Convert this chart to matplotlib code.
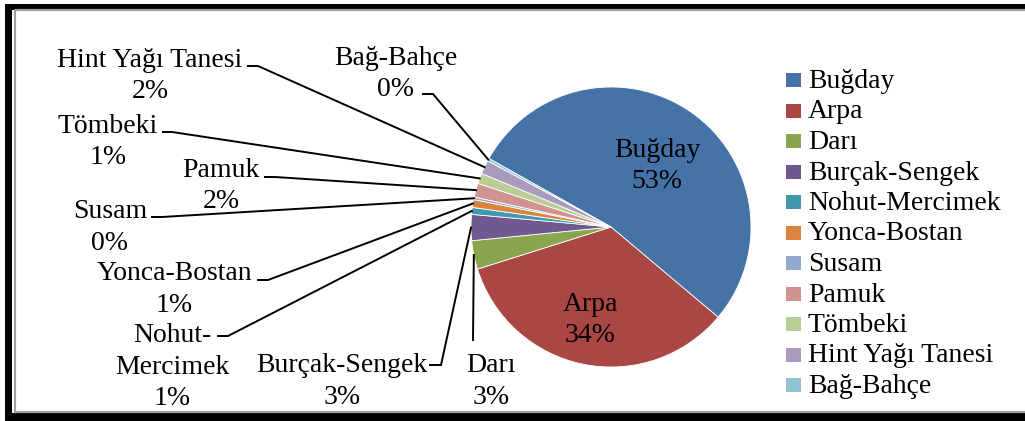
import numpy as np
import matplotlib.pyplot as plt
from matplotlib.patches import Rectangle

plt.rcParams["font.family"] = ["Liberation Serif", "DejaVu Serif"]

categories = ["Buğday", "Arpa", "Darı", "Burçak-Sengek", "Nohut-Mercimek",
              "Yonca-Bostan", "Susam", "Pamuk", "Tömbeki", "Hint Yağı Tanesi",
              "Bağ-Bahçe"]
shares = [53.0, 34.0, 3.3, 3.0, 0.8, 0.9, 0.3, 1.6, 1.2, 1.6, 0.3]
colors = ["#4572A7", "#AA4643", "#89A54E", "#71588F", "#4198AF", "#DB843D",
          "#93A9CF", "#D19392", "#B9CD96", "#A99BBD", "#92C3D4"]

W, H = 1025, 421
CX, CY, R = 611, 227, 140
FS = 20
LINE = 31.5

fig = plt.figure(figsize=(W / 100, H / 100), dpi=100)

# pie axes: square in pixels, data units = radius
ax = fig.add_axes([(CX - R) / W, (H - CY - R) / H, 2 * R / W, 2 * R / H])
wedges, _ = ax.pie(shares, colors=colors, startangle=150.7, counterclock=False,
                   radius=1, wedgeprops=dict(edgecolor="white", linewidth=0.6))
ax.set_xlim(-1, 1)
ax.set_ylim(-1, 1)
ax.set_aspect("auto")
ax.axis("off")

# overlay axes in pixel coordinates for frame, labels, leaders, legend
bg = fig.add_axes([0, 0, 1, 1], zorder=5)
bg.set_xlim(0, W)
bg.set_ylim(H, 0)
bg.axis("off")
bg.patch.set_alpha(0)

# frame
for x, y, w, h in [(5, 4, 7, 417), (5, 4, 1020, 6), (5, 413, 1020, 8)]:
    bg.add_patch(Rectangle((x, y), w, h, color="black", lw=0))
bg.plot([15, 15, W], [412, 10, 10], color="#a0a0a0", lw=1.6)
bg.plot([15, W], [412, 412], color="#a0a0a0", lw=1.6)


def lines_at(x, y, lines, ha="center"):
    for k, s in enumerate(lines):
        bg.text(x, y + k * LINE, s, ha=ha, va="baseline", fontsize=FS)


def pct(v):
    return f"{round(v)}%"


def edge_point(w):
    mid = np.deg2rad((w.theta1 + w.theta2) / 2)
    return CX + R * np.cos(mid), CY - R * np.sin(mid)


# inside labels
lines_at(657, 157, [categories[0], pct(shares[0])])
lines_at(590, 311, [categories[1], pct(shares[1])])

# outside labels: (text x, first baseline, leader start, elbow)
outside = {
    2: (491, 372, (473, 340), (473, 340)),
    3: (342, 372, (430, 365), (441, 365)),
    4: (172, 342, (218, 336), (228, 336)),
    5: (174, 280, (258, 280), (268, 280)),
    6: (110, 218, (152, 217), (162, 217)),
    7: (221, 177, (265, 177), (275, 177)),
    8: (108, 133, (163, 132), (172, 132)),
    9: (150, 67, (248, 66), (258, 66)),
    10: (396, 65, (423, 94), (433, 94)),
}
for i, (tx, ty, p0, p1) in outside.items():
    name = categories[i]
    if name == "Nohut-Mercimek":
        name_lines = ["Nohut-", "Mercimek"]
    else:
        name_lines = [name]
    lines_at(tx, ty, name_lines + [pct(shares[i])])
    ex, ey = edge_point(wedges[i])
    bg.plot([p0[0], p1[0], ex], [p0[1], p1[1], ey], color="black", lw=1.4,
            solid_joinstyle="miter")

# legend
for i, (name, c) in enumerate(zip(categories, colors)):
    yb = 88 + i * 30.5
    bg.add_patch(Rectangle((786, yb - 15), 15, 14, color=c, lw=0))
    bg.text(808, yb, name, ha="left", va="baseline", fontsize=FS)

fig.savefig("out.png", dpi=100)
